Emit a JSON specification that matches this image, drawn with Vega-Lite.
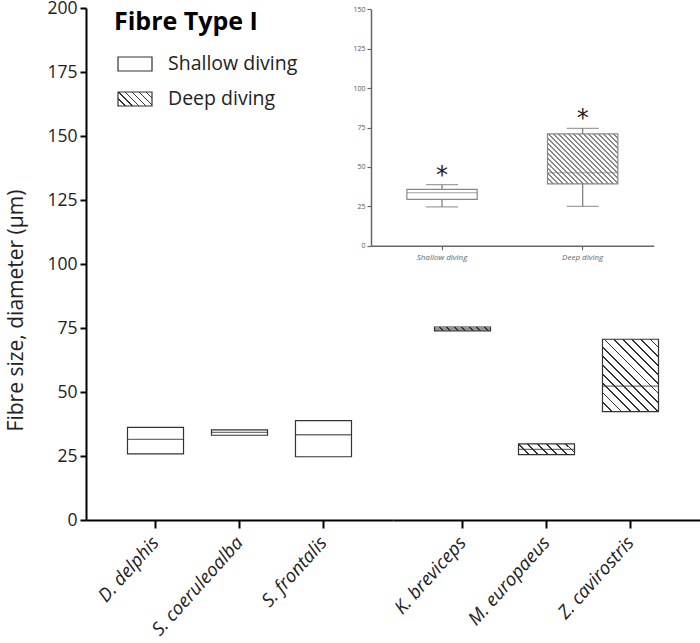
{
  "$schema": "https://vega.github.io/schema/vega-lite/v6.json",
  "width": 614,
  "height": 512,
  "autosize": {"type": "none"},
  "padding": {"left": 86, "top": 8, "right": 0, "bottom": 123},
  "background": "white",
  "title": {"text": "Fibre Type I", "anchor": "start", "frame": "group", "offset": -56, "dx": 28, "fontSize": 25, "fontWeight": "bold", "font": "Open Sans", "color": "black", "baseline": "alphabetic"},
  "config": {"view": {"stroke": null}, "axis": {"grid": false}},
  "datasets": {
    "main": [
      {"species": "D. delphis", "group": "Shallow diving", "low": 25.8, "median": 31.5, "high": 36.2},
      {"species": "S. coeruleoalba", "group": "Shallow diving", "low": 33.1, "median": 34.2, "high": 35.2},
      {"species": "S. frontalis", "group": "Shallow diving", "low": 24.7, "median": 33.3, "high": 38.8},
      {"species": "K. breviceps", "group": "Deep diving", "low": 73.9, "median": 74.6, "high": 75.4},
      {"species": "M. europaeus", "group": "Deep diving", "low": 25.5, "median": 27.6, "high": 29.7},
      {"species": "Z. cavirostris", "group": "Deep diving", "low": 42.3, "median": 52.3, "high": 70.6}
    ],
    "inset": [
      {"group": "Shallow diving", "wlow": 24.6, "low": 29.4, "median": 33.6, "high": 35.8, "whigh": 38.7},
      {"group": "Deep diving", "wlow": 25.0, "low": 39.2, "median": 46.3, "high": 70.9, "whigh": 74.5}
    ],
    "legend": [
      {"group": "Shallow diving"},
      {"group": "Deep diving"}
    ]
  },
  "resolve": {"scale": {"x": "independent", "y": "independent"}},
  "layer": [
    {
      "data": {"name": "main"},
      "transform": [{"filter": "datum.group === 'Shallow diving'"}],
      "encoding": {
        "x": {"field": "species", "type": "nominal", "sort": null,
          "scale": {"domain": ["D. delphis", "S. coeruleoalba", "S. frontalis"], "range": [0, 307], "paddingInner": 0.333, "paddingOuter": 0.494},
          "axis": {"orient": "bottom", "title": null, "domainColor": "black", "domainWidth": 2, "tickColor": "black", "tickWidth": 2, "tickSize": 8, "labelAngle": -48, "labelAlign": "right", "labelBaseline": "middle", "labelFont": "Open Sans", "labelFontSize": 18.5, "labelFontStyle": "italic", "labelColor": "#222", "labelPadding": 11}}
      },
      "layer": [
        {
          "mark": {"type": "bar", "fill": "white", "stroke": "#333", "strokeWidth": 1.2},
          "encoding": {
            "y": {"field": "low", "type": "quantitative",
              "scale": {"domain": [0, 200], "nice": false, "zero": true},
              "axis": {"title": "Fibre size, diameter (μm)", "values": [0, 25, 50, 75, 100, 125, 150, 175, 200], "grid": false, "labelFlush": false, "domainColor": "black", "domainWidth": 2, "tickColor": "black", "tickWidth": 2, "tickSize": 6, "labelFont": "Open Sans", "labelFontSize": 17.5, "labelColor": "#222", "labelPadding": 3, "titleFont": "Open Sans", "titleFontSize": 21, "titleFontWeight": "normal", "titleColor": "#222", "titleX": -60, "titleY": 302, "titleAngle": -90, "titleAlign": "center", "titleBaseline": "bottom"}},
            "y2": {"field": "high"}
          }
        },
        {
          "mark": {"type": "tick", "color": "#333", "size": 56, "thickness": 1.3},
          "encoding": {
            "y": {"field": "median", "type": "quantitative", "scale": {"domain": [0, 200], "nice": false}, "axis": {"title": "Fibre size, diameter (μm)"}}
          }
        }
      ]
    },
    {
      "data": {"name": "main"},
      "transform": [{"filter": "datum.group === 'Deep diving'"}],
      "encoding": {
        "x": {"field": "species", "type": "nominal", "sort": null,
          "scale": {"domain": ["K. breviceps", "M. europaeus", "Z. cavirostris"], "range": [307, 614], "paddingInner": 0.333, "paddingOuter": 0.494},
          "axis": {"orient": "bottom", "title": null, "domainColor": "black", "domainWidth": 2, "tickColor": "black", "tickWidth": 2, "tickSize": 8, "labelAngle": -48, "labelAlign": "right", "labelBaseline": "middle", "labelFont": "Open Sans", "labelFontSize": 18.5, "labelFontStyle": "italic", "labelColor": "#222", "labelPadding": 11}}
      },
      "layer": [
        {
          "transform": [{"filter": "datum.species === 'K. breviceps'"}],
          "mark": {"type": "bar", "stroke": "#333", "strokeWidth": 1.2,
            "fill": {"gradient": "linear", "x1": 0, "y1": 1, "x2": 1.063, "y2": 0.928, "stops": [
              {"offset": 0, "color": "#333"}, {"offset": 0.0375, "color": "#333"}, {"offset": 0.0375, "color": "white"}, {"offset": 0.125, "color": "white"},
              {"offset": 0.125, "color": "#333"}, {"offset": 0.1625, "color": "#333"}, {"offset": 0.1625, "color": "white"}, {"offset": 0.25, "color": "white"},
              {"offset": 0.25, "color": "#333"}, {"offset": 0.2875, "color": "#333"}, {"offset": 0.2875, "color": "white"}, {"offset": 0.375, "color": "white"},
              {"offset": 0.375, "color": "#333"}, {"offset": 0.4125, "color": "#333"}, {"offset": 0.4125, "color": "white"}, {"offset": 0.5, "color": "white"},
              {"offset": 0.5, "color": "#333"}, {"offset": 0.5375, "color": "#333"}, {"offset": 0.5375, "color": "white"}, {"offset": 0.625, "color": "white"},
              {"offset": 0.625, "color": "#333"}, {"offset": 0.6625, "color": "#333"}, {"offset": 0.6625, "color": "white"}, {"offset": 0.75, "color": "white"},
              {"offset": 0.75, "color": "#333"}, {"offset": 0.7875, "color": "#333"}, {"offset": 0.7875, "color": "white"}, {"offset": 0.875, "color": "white"},
              {"offset": 0.875, "color": "#333"}, {"offset": 0.9125, "color": "#333"}, {"offset": 0.9125, "color": "white"}, {"offset": 1, "color": "white"}
            ]}},
          "encoding": {
            "y": {"field": "low", "type": "quantitative", "scale": {"domain": [0, 200], "nice": false}, "axis": null},
            "y2": {"field": "high"}
          }
        },
        {
          "transform": [{"filter": "datum.species === 'M. europaeus'"}],
          "mark": {"type": "bar", "stroke": "#333", "strokeWidth": 1.2,
            "fill": {"gradient": "linear", "x1": 0, "y1": 1, "x2": 1.15, "y2": 0.778, "stops": [
              {"offset": 0, "color": "#333"}, {"offset": 0.0286, "color": "#333"}, {"offset": 0.0286, "color": "white"}, {"offset": 0.1429, "color": "white"},
              {"offset": 0.1429, "color": "#333"}, {"offset": 0.1714, "color": "#333"}, {"offset": 0.1714, "color": "white"}, {"offset": 0.2857, "color": "white"},
              {"offset": 0.2857, "color": "#333"}, {"offset": 0.3143, "color": "#333"}, {"offset": 0.3143, "color": "white"}, {"offset": 0.4286, "color": "white"},
              {"offset": 0.4286, "color": "#333"}, {"offset": 0.4571, "color": "#333"}, {"offset": 0.4571, "color": "white"}, {"offset": 0.5714, "color": "white"},
              {"offset": 0.5714, "color": "#333"}, {"offset": 0.6, "color": "#333"}, {"offset": 0.6, "color": "white"}, {"offset": 0.7143, "color": "white"},
              {"offset": 0.7143, "color": "#333"}, {"offset": 0.7429, "color": "#333"}, {"offset": 0.7429, "color": "white"}, {"offset": 0.8571, "color": "white"},
              {"offset": 0.8571, "color": "#333"}, {"offset": 0.8857, "color": "#333"}, {"offset": 0.8857, "color": "white"}, {"offset": 1, "color": "white"}
            ]}},
          "encoding": {
            "y": {"field": "low", "type": "quantitative", "scale": {"domain": [0, 200], "nice": false}, "axis": null},
            "y2": {"field": "high"}
          }
        },
        {
          "transform": [{"filter": "datum.species === 'Z. cavirostris'"}],
          "mark": {"type": "bar", "stroke": "#333", "strokeWidth": 1.2,
            "fill": {"gradient": "linear", "x1": 0, "y1": 1, "x2": 0.858, "y2": -0.109, "stops": [
              {"offset": 0, "color": "#333"}, {"offset": 0.0143, "color": "#333"}, {"offset": 0.0143, "color": "white"}, {"offset": 0.0714, "color": "white"},
              {"offset": 0.0714, "color": "#333"}, {"offset": 0.0857, "color": "#333"}, {"offset": 0.0857, "color": "white"}, {"offset": 0.1429, "color": "white"},
              {"offset": 0.1429, "color": "#333"}, {"offset": 0.1571, "color": "#333"}, {"offset": 0.1571, "color": "white"}, {"offset": 0.2143, "color": "white"},
              {"offset": 0.2143, "color": "#333"}, {"offset": 0.2286, "color": "#333"}, {"offset": 0.2286, "color": "white"}, {"offset": 0.2857, "color": "white"},
              {"offset": 0.2857, "color": "#333"}, {"offset": 0.3, "color": "#333"}, {"offset": 0.3, "color": "white"}, {"offset": 0.3571, "color": "white"},
              {"offset": 0.3571, "color": "#333"}, {"offset": 0.3714, "color": "#333"}, {"offset": 0.3714, "color": "white"}, {"offset": 0.4286, "color": "white"},
              {"offset": 0.4286, "color": "#333"}, {"offset": 0.4429, "color": "#333"}, {"offset": 0.4429, "color": "white"}, {"offset": 0.5, "color": "white"},
              {"offset": 0.5, "color": "#333"}, {"offset": 0.5143, "color": "#333"}, {"offset": 0.5143, "color": "white"}, {"offset": 0.5714, "color": "white"},
              {"offset": 0.5714, "color": "#333"}, {"offset": 0.5857, "color": "#333"}, {"offset": 0.5857, "color": "white"}, {"offset": 0.6429, "color": "white"},
              {"offset": 0.6429, "color": "#333"}, {"offset": 0.6571, "color": "#333"}, {"offset": 0.6571, "color": "white"}, {"offset": 0.7143, "color": "white"},
              {"offset": 0.7143, "color": "#333"}, {"offset": 0.7286, "color": "#333"}, {"offset": 0.7286, "color": "white"}, {"offset": 0.7857, "color": "white"},
              {"offset": 0.7857, "color": "#333"}, {"offset": 0.8, "color": "#333"}, {"offset": 0.8, "color": "white"}, {"offset": 0.8571, "color": "white"},
              {"offset": 0.8571, "color": "#333"}, {"offset": 0.8714, "color": "#333"}, {"offset": 0.8714, "color": "white"}, {"offset": 0.9286, "color": "white"},
              {"offset": 0.9286, "color": "#333"}, {"offset": 0.9429, "color": "#333"}, {"offset": 0.9429, "color": "white"}, {"offset": 1, "color": "white"}
            ]}},
          "encoding": {
            "y": {"field": "low", "type": "quantitative", "scale": {"domain": [0, 200], "nice": false}, "axis": null},
            "y2": {"field": "high"}
          }
        },
        {
          "mark": {"type": "tick", "color": "#333", "size": 56, "thickness": 1.3},
          "encoding": {
            "y": {"field": "median", "type": "quantitative", "scale": {"domain": [0, 200], "nice": false}, "axis": null}
          }
        }
      ]
    },
    {
      "data": {"name": "inset"},
      "encoding": {
        "x": {"field": "group", "type": "nominal", "sort": null,
          "scale": {"domain": ["Shallow diving", "Deep diving"], "range": [285, 567.7], "paddingInner": 0.5, "paddingOuter": 0.255},
          "axis": {"orient": "bottom", "offset": -274.3, "title": null, "domainColor": "#666", "domainWidth": 1.5, "tickColor": "#666", "tickWidth": 1.2, "tickSize": 4, "labelAngle": 0, "labelAlign": "center", "labelFont": "Open Sans", "labelFontSize": 8, "labelFontStyle": "italic", "labelColor": "#666", "labelPadding": 4}}
      },
      "layer": [
        {
          "mark": {"type": "rule", "color": "#777", "strokeWidth": 1.2},
          "encoding": {
            "y": {"field": "wlow", "type": "quantitative",
              "scale": {"domain": [0, 150], "range": [237.7, 1.3], "nice": false},
              "axis": {"orient": "left", "offset": -285, "title": null, "values": [0, 25, 50, 75, 100, 125, 150], "grid": false, "labelFlush": false, "domainColor": "#666", "domainWidth": 1.5, "tickColor": "#666", "tickWidth": 1.2, "tickSize": 4, "labelFont": "Open Sans", "labelFontSize": 7, "labelColor": "#555", "labelPadding": 2}},
            "y2": {"field": "whigh"}
          }
        },
        {
          "mark": {"type": "tick", "color": "#777", "size": 32, "thickness": 1.2},
          "encoding": {"y": {"field": "wlow", "type": "quantitative"}}
        },
        {
          "mark": {"type": "tick", "color": "#777", "size": 32, "thickness": 1.2},
          "encoding": {"y": {"field": "whigh", "type": "quantitative"}}
        },
        {
          "transform": [{"filter": "datum.group === 'Shallow diving'"}],
          "mark": {"type": "bar", "fill": "white", "stroke": "#888", "strokeWidth": 1.2},
          "encoding": {"y": {"field": "low", "type": "quantitative"}, "y2": {"field": "high"}}
        },
        {
          "transform": [{"filter": "datum.group === 'Deep diving'"}],
          "mark": {"type": "bar", "stroke": "#888", "strokeWidth": 1.2,
            "fill": {"gradient": "linear", "x1": 0, "y1": 1, "x2": 1.137, "y2": 0.193, "stops": [
              {"offset": 0, "color": "#888"}, {"offset": 0.0125, "color": "#888"}, {"offset": 0.0125, "color": "white"}, {"offset": 0.04167, "color": "white"},
              {"offset": 0.04167, "color": "#888"}, {"offset": 0.05417, "color": "#888"}, {"offset": 0.05417, "color": "white"}, {"offset": 0.08333, "color": "white"},
              {"offset": 0.08333, "color": "#888"}, {"offset": 0.09583, "color": "#888"}, {"offset": 0.09583, "color": "white"}, {"offset": 0.125, "color": "white"},
              {"offset": 0.125, "color": "#888"}, {"offset": 0.1375, "color": "#888"}, {"offset": 0.1375, "color": "white"}, {"offset": 0.16667, "color": "white"},
              {"offset": 0.16667, "color": "#888"}, {"offset": 0.17917, "color": "#888"}, {"offset": 0.17917, "color": "white"}, {"offset": 0.20833, "color": "white"},
              {"offset": 0.20833, "color": "#888"}, {"offset": 0.22083, "color": "#888"}, {"offset": 0.22083, "color": "white"}, {"offset": 0.25, "color": "white"},
              {"offset": 0.25, "color": "#888"}, {"offset": 0.2625, "color": "#888"}, {"offset": 0.2625, "color": "white"}, {"offset": 0.29167, "color": "white"},
              {"offset": 0.29167, "color": "#888"}, {"offset": 0.30417, "color": "#888"}, {"offset": 0.30417, "color": "white"}, {"offset": 0.33333, "color": "white"},
              {"offset": 0.33333, "color": "#888"}, {"offset": 0.34583, "color": "#888"}, {"offset": 0.34583, "color": "white"}, {"offset": 0.375, "color": "white"},
              {"offset": 0.375, "color": "#888"}, {"offset": 0.3875, "color": "#888"}, {"offset": 0.3875, "color": "white"}, {"offset": 0.41667, "color": "white"},
              {"offset": 0.41667, "color": "#888"}, {"offset": 0.42917, "color": "#888"}, {"offset": 0.42917, "color": "white"}, {"offset": 0.45833, "color": "white"},
              {"offset": 0.45833, "color": "#888"}, {"offset": 0.47083, "color": "#888"}, {"offset": 0.47083, "color": "white"}, {"offset": 0.5, "color": "white"},
              {"offset": 0.5, "color": "#888"}, {"offset": 0.5125, "color": "#888"}, {"offset": 0.5125, "color": "white"}, {"offset": 0.54167, "color": "white"},
              {"offset": 0.54167, "color": "#888"}, {"offset": 0.55417, "color": "#888"}, {"offset": 0.55417, "color": "white"}, {"offset": 0.58333, "color": "white"},
              {"offset": 0.58333, "color": "#888"}, {"offset": 0.59583, "color": "#888"}, {"offset": 0.59583, "color": "white"}, {"offset": 0.625, "color": "white"},
              {"offset": 0.625, "color": "#888"}, {"offset": 0.6375, "color": "#888"}, {"offset": 0.6375, "color": "white"}, {"offset": 0.66667, "color": "white"},
              {"offset": 0.66667, "color": "#888"}, {"offset": 0.67917, "color": "#888"}, {"offset": 0.67917, "color": "white"}, {"offset": 0.70833, "color": "white"},
              {"offset": 0.70833, "color": "#888"}, {"offset": 0.72083, "color": "#888"}, {"offset": 0.72083, "color": "white"}, {"offset": 0.75, "color": "white"},
              {"offset": 0.75, "color": "#888"}, {"offset": 0.7625, "color": "#888"}, {"offset": 0.7625, "color": "white"}, {"offset": 0.79167, "color": "white"},
              {"offset": 0.79167, "color": "#888"}, {"offset": 0.80417, "color": "#888"}, {"offset": 0.80417, "color": "white"}, {"offset": 0.83333, "color": "white"},
              {"offset": 0.83333, "color": "#888"}, {"offset": 0.84583, "color": "#888"}, {"offset": 0.84583, "color": "white"}, {"offset": 0.875, "color": "white"},
              {"offset": 0.875, "color": "#888"}, {"offset": 0.8875, "color": "#888"}, {"offset": 0.8875, "color": "white"}, {"offset": 0.91667, "color": "white"},
              {"offset": 0.91667, "color": "#888"}, {"offset": 0.92917, "color": "#888"}, {"offset": 0.92917, "color": "white"}, {"offset": 0.95833, "color": "white"},
              {"offset": 0.95833, "color": "#888"}, {"offset": 0.97083, "color": "#888"}, {"offset": 0.97083, "color": "white"}, {"offset": 1, "color": "white"}
            ]}},
          "encoding": {"y": {"field": "low", "type": "quantitative"}, "y2": {"field": "high"}}
        },
        {
          "mark": {"type": "tick", "color": "#777", "size": 70, "thickness": 1.2},
          "encoding": {"y": {"field": "median", "type": "quantitative"}}
        },
        {
          "mark": {"type": "text", "text": "*", "font": "DejaVu Sans", "fontSize": 24, "baseline": "alphabetic", "dy": -2, "color": "#222"},
          "encoding": {"y": {"field": "whigh", "type": "quantitative"}}
        }
      ]
    },
    {
      "data": {"name": "legend"},
      "encoding": {
        "y": {"field": "group", "type": "nominal", "sort": null,
          "scale": {"domain": ["Shallow diving", "Deep diving"], "range": [49, 98], "paddingInner": 0.6, "paddingOuter": 0},
          "axis": null}
      },
      "layer": [
        {
          "transform": [{"filter": "datum.group === 'Shallow diving'"}],
          "mark": {"type": "rect", "fill": "white", "stroke": "#333", "strokeWidth": 1.2},
          "encoding": {
            "x": {"datum": 0, "type": "quantitative", "scale": {"domain": [0, 1], "range": [32, 66]}, "axis": null},
            "x2": {"datum": 1}
          }
        },
        {
          "transform": [{"filter": "datum.group === 'Deep diving'"}],
          "mark": {"type": "rect", "stroke": "#333", "strokeWidth": 1.2,
            "fill": {"gradient": "linear", "x1": 0, "y1": 1, "x2": 1.207, "y2": 0.503, "stops": [
              {"offset": 0, "color": "#333"}, {"offset": 0.0286, "color": "#333"}, {"offset": 0.0286, "color": "white"}, {"offset": 0.1429, "color": "white"},
              {"offset": 0.1429, "color": "#333"}, {"offset": 0.1714, "color": "#333"}, {"offset": 0.1714, "color": "white"}, {"offset": 0.2857, "color": "white"},
              {"offset": 0.2857, "color": "#333"}, {"offset": 0.3143, "color": "#333"}, {"offset": 0.3143, "color": "white"}, {"offset": 0.4286, "color": "white"},
              {"offset": 0.4286, "color": "#333"}, {"offset": 0.4571, "color": "#333"}, {"offset": 0.4571, "color": "white"}, {"offset": 0.5714, "color": "white"},
              {"offset": 0.5714, "color": "#333"}, {"offset": 0.6, "color": "#333"}, {"offset": 0.6, "color": "white"}, {"offset": 0.7143, "color": "white"},
              {"offset": 0.7143, "color": "#333"}, {"offset": 0.7429, "color": "#333"}, {"offset": 0.7429, "color": "white"}, {"offset": 0.8571, "color": "white"},
              {"offset": 0.8571, "color": "#333"}, {"offset": 0.8857, "color": "#333"}, {"offset": 0.8857, "color": "white"}, {"offset": 1, "color": "white"}
            ]}},
          "encoding": {
            "x": {"datum": 0, "type": "quantitative", "scale": {"domain": [0, 1], "range": [32, 66]}, "axis": null},
            "x2": {"datum": 1}
          }
        },
        {
          "mark": {"type": "text", "align": "left", "baseline": "middle", "dx": 16, "font": "Open Sans", "fontSize": 19.5, "color": "#222"},
          "encoding": {
            "x": {"datum": 1, "type": "quantitative", "scale": {"domain": [0, 1], "range": [32, 66]}, "axis": null},
            "text": {"field": "group"}
          }
        }
      ]
    }
  ]
}
